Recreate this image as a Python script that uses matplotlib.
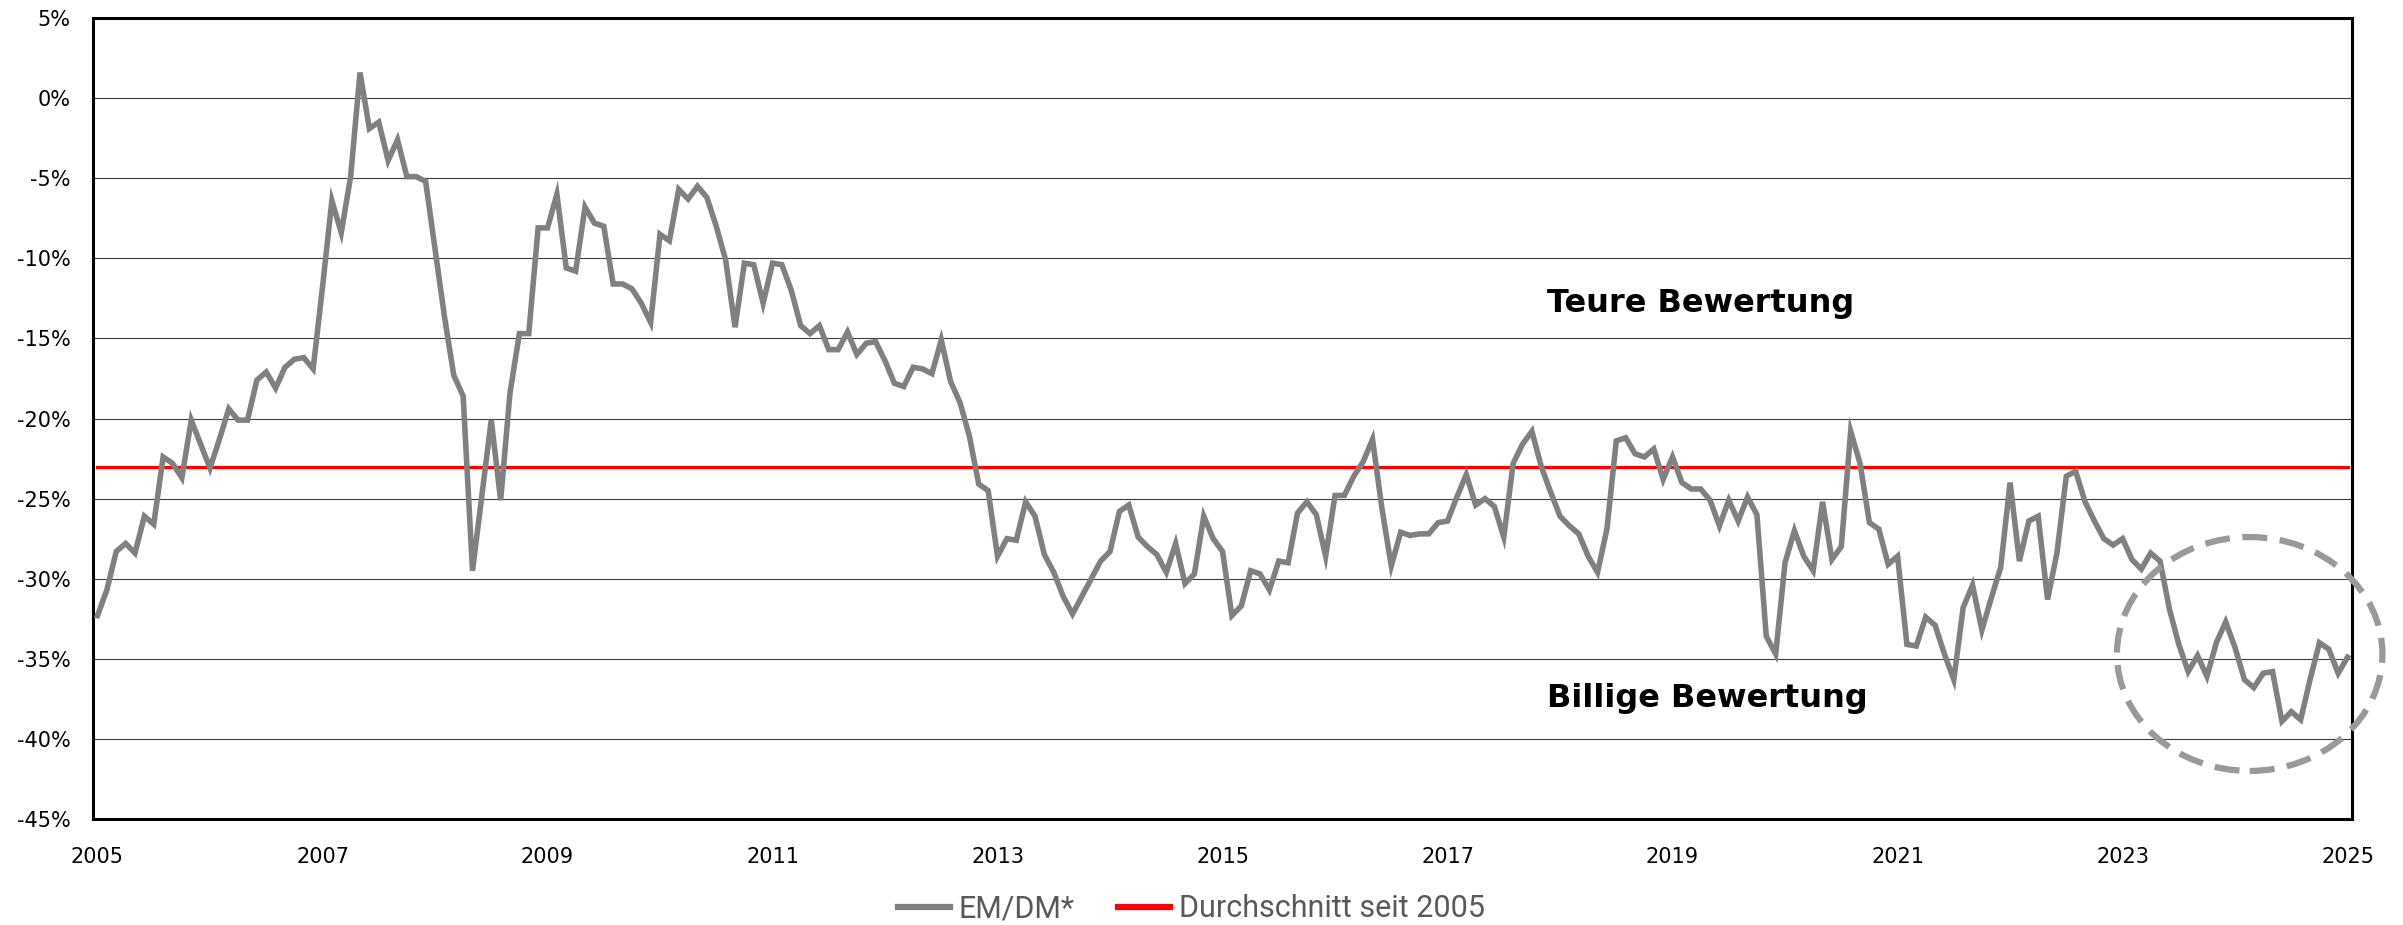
import numpy as np
import matplotlib
matplotlib.use("Agg")
import matplotlib.pyplot as plt
from matplotlib.patches import Ellipse

# monthly EM/DM relative valuation, Jan 2005 .. Jan 2025 (in %)
em_dm = [
    -32.3, -30.7, -28.3, -27.8, -28.4, -26.1, -26.6, -22.4, -22.8, -23.7, -20.1, -21.6,
    -23.1, -21.3, -19.4, -20.1, -20.1, -17.6, -17.1, -18.1, -16.8, -16.3, -16.2, -16.9,
    -11.8, -6.4, -8.4, -4.9, 1.6, -1.9, -1.5, -3.9, -2.6, -4.9, -4.9, -5.2,
    -9.4, -13.6, -17.3, -18.6, -29.5, -24.8, -20.1, -25.1, -18.4, -14.7, -14.7, -8.1,
    -8.1, -6.0, -10.6, -10.8, -6.8, -7.8, -8.0, -11.6, -11.6, -11.9, -12.8, -14.0,
    -8.5, -8.9, -5.7, -6.3, -5.5, -6.2, -8.0, -10.1, -14.3, -10.3, -10.4, -12.8,
    -10.3, -10.4, -12.0, -14.2, -14.7, -14.2, -15.7, -15.7, -14.6, -16.0, -15.3, -15.2,
    -16.4, -17.8, -18.0, -16.8, -16.9, -17.2, -15.1, -17.7, -19.0, -21.1, -24.1, -24.5,
    -28.6, -27.5, -27.6, -25.2, -26.1, -28.5, -29.6, -31.1, -32.2, -31.1, -30.0, -28.9,
    -28.3, -25.8, -25.4, -27.4, -28.0, -28.5, -29.6, -27.8, -30.3, -29.7, -26.1, -27.5,
    -28.3, -32.3, -31.7, -29.5, -29.7, -30.7, -28.9, -29.0, -25.9, -25.2, -26.0, -28.6,
    -24.8, -24.8, -23.6, -22.7, -21.3, -25.6, -29.2, -27.1, -27.3, -27.2, -27.2, -26.5,
    -26.4, -24.9, -23.5, -25.4, -25.0, -25.5, -27.4, -22.8, -21.6, -20.8, -23.0, -24.6,
    -26.1, -26.7, -27.2, -28.6, -29.6, -26.9, -21.4, -21.2, -22.2, -22.4, -21.9, -23.8,
    -22.4, -24.0, -24.4, -24.4, -25.1, -26.7, -25.1, -26.4, -24.9, -26.0, -33.6, -34.7,
    -29.0, -27.0, -28.6, -29.5, -25.2, -28.8, -28.0, -20.8, -22.8, -26.5, -26.9, -29.1,
    -28.6, -34.1, -34.2, -32.4, -32.9, -34.7, -36.3, -31.8, -30.4, -33.2, -31.2, -29.3,
    -24.0, -28.9, -26.4, -26.1, -31.3, -28.4, -23.6, -23.3, -25.2, -26.4, -27.5, -27.9,
    -27.5, -28.8, -29.4, -28.4, -28.9, -31.9, -34.1, -35.8, -34.8, -36.1, -34.0, -32.7,
    -34.3, -36.3, -36.8, -35.9, -35.8, -38.9, -38.3, -38.8, -36.3, -34.0, -34.4, -35.9,
    -34.9,
]
avg_since_2005 = -23.0
year_ticks = [2005, 2007, 2009, 2011, 2013, 2015, 2017, 2019, 2021, 2023, 2025]
y_ticks = [5, 0, -5, -10, -15, -20, -25, -30, -35, -40, -45]

x = 2005 + np.arange(len(em_dm)) / 12.0

fig = plt.figure(figsize=(24.03, 9.25), dpi=100)
ax = fig.add_axes([0.0387, 0.1146, 0.9401, 0.8659])

for v in y_ticks:
    ax.axhline(v, color="#3f3f3f", lw=0.8, zorder=1)

ax.plot(x, em_dm, color="#808080", lw=4, solid_joinstyle="miter", zorder=3, label="EM/DM*")
ax.plot(x, [avg_since_2005] * len(x), color="#ff0000", lw=2.3, zorder=2, label="Durchschnitt seit 2005")

ax.set_xlim(2004.96, 2025.04)
ax.set_ylim(-45, 5)
ax.set_xticks(year_ticks)
ax.set_xticklabels([str(y) for y in year_ticks])
ax.set_yticks(y_ticks)
ax.set_yticklabels([f"{v}%" for v in y_ticks])
ax.tick_params(length=0, labelsize=15, colors="black")
ax.tick_params(axis="x", pad=20)
ax.tick_params(axis="y", pad=16)
for s in ax.spines.values():
    s.set_linewidth(2.2)
    s.set_color("black")

ax.text(2017.88, -13.35, "Teure Bewertung", fontsize=23, fontweight="bold", va="baseline")
ax.text(2017.88, -37.98, "Billige Bewertung", fontsize=23, fontweight="bold", va="baseline")

ell = Ellipse((2024.13, -34.7), 2.36, 14.6, fill=False, edgecolor="#999999", lw=4.5,
              linestyle=(0, (4, 2)), clip_on=False, zorder=4)
ax.add_patch(ell)

leg = fig.legend(loc="center", bbox_to_anchor=(0.4957, 0.0173), ncol=2, frameon=False,
                 prop={"family": "Roboto", "size": 22}, handlelength=1.7,
                 handletextpad=0.3, columnspacing=1.4)
for t in leg.get_texts():
    t.set_color("#595959")
for h in leg.get_lines():
    h.set_linewidth(4.5)

fig.savefig("out.png", dpi=100)
